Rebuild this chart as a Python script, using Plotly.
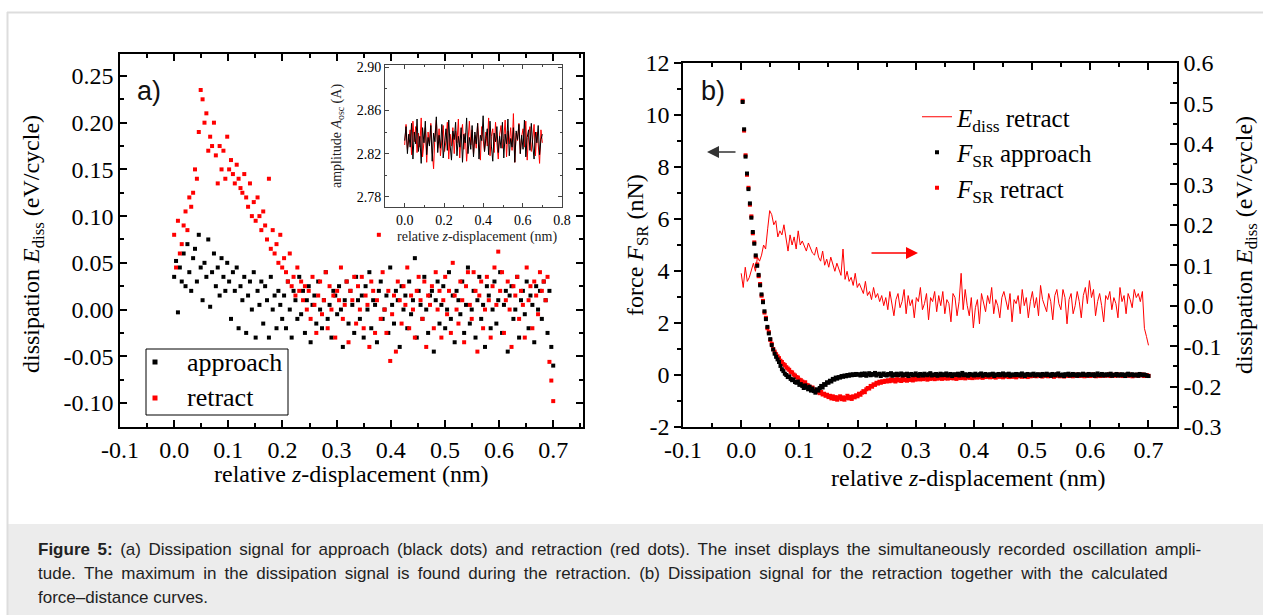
import numpy as np
import plotly.graph_objects as go

# panel a: dissipation (eV/cycle), one value every 0.0035 nm starting at z = 0
APPROACH_EDISS = [
    0.035, 0.052, -0.003, 0.045, 0.03, 0.06, 0.025, 0.07, 0.04, 0.02,
    0.055, 0.065, 0.03, 0.08, 0.045, 0.01, 0.05, 0.035, 0.075, 0.003, 0.04,
    0.06, 0.025, 0.045, 0.015, 0.055, 0.035, 0.02, 0.05,
    0.03, -0.01, 0.04, 0.02, 0.045, -0.02, 0.025, 0.01, 0.035, -0.025,
    0.015, 0.03, 0.0, 0.04, -0.03, 0.02, 0.005, 0.03, -0.015, 0.025,
    0.01, -0.03, 0.035, 0.0, 0.015, -0.02, 0.02, 0.005, -0.01,
    0.015, -0.02, 0.03, 0.0, -0.03, 0.02, 0.01, -0.01, 0.035, -0.005,
    0.02, -0.025, 0.01, 0.025, -0.035, 0.005, 0.015, -0.015, 0.03, 0.0,
    -0.02, 0.01, 0.04, -0.01, 0.005, -0.03, 0.02, 0.015, -0.005, 0.025,
    0.0, -0.04, 0.01, 0.03, -0.015, 0.02, 0.005, -0.025, 0.035, 0.01,
    -0.01, 0.015, -0.03, 0.025, 0.0, 0.04, -0.02, 0.01, 0.005, -0.035,
    0.02, 0.03, -0.01, 0.0, 0.015, -0.025, 0.045, 0.005, -0.015, 0.02,
    0.01, -0.04, 0.025, 0.0, 0.015, -0.02, 0.03, -0.005, 0.01, 0.055,
    -0.03, 0.02, 0.005, -0.01, 0.035, 0.0, -0.025, 0.015, 0.02, -0.045,
    0.01, 0.03, -0.015, 0.005, 0.025, -0.02, 0.0, 0.04, -0.01, 0.015,
    -0.035, 0.02, 0.01, -0.005, 0.03, -0.025, 0.005, 0.045, -0.015, 0.0,
    0.02, -0.03, 0.01, 0.035, -0.01, 0.005, -0.04, 0.025, 0.015, -0.02,
    0.0, 0.03, -0.015, 0.01, 0.04, -0.025, 0.005, 0.02, -0.045, 0.015,
    0.025, -0.01, 0.0, 0.035, -0.03, 0.01, 0.02, -0.005, 0.03, -0.02,
    0.015, 0.005, -0.035, 0.025, 0.0, 0.02, -0.01, 0.03, 0.01, -0.025,
    0.02, -0.04, -0.06,
]
RETRACT_EDISS = [
    0.08, 0.045, 0.095, 0.06,
    0.07, 0.09, 0.105, 0.085, 0.12, 0.11,
    0.125, 0.15, 0.14, 0.19, 0.235,
    0.225, 0.2, 0.21, 0.17, 0.185, 0.175,
    0.2, 0.165, 0.135, 0.175, 0.15, 0.17, 0.14, 0.185,
    0.15, 0.16, 0.145, 0.135, 0.155, 0.14, 0.13, 0.125, 0.145,
    0.12, 0.11, 0.135, 0.1, 0.115, 0.095, 0.12, 0.1, 0.085, 0.105,
    0.09, 0.075, 0.14, 0.065, 0.085, 0.06, 0.07, 0.05, 0.08, 0.045,
    0.055, 0.04, 0.03, 0.06, 0.025, 0.035, 0.015, 0.045, 0.02, 0.03, 0.01, 0.025, 0.0,
    0.02, -0.01, 0.035, 0.005, -0.025, 0.015, 0.03, -0.005, 0.01, 0.04,
    -0.02, 0.025, 0.0, 0.015, -0.03, 0.02, 0.01, 0.045, -0.01, 0.005,
    0.03, -0.035, 0.02, 0.01, 0.035, -0.015, 0.025, 0.0, 0.035, -0.02,
    0.015, 0.005, -0.04, 0.03, 0.02, -0.025, 0.01, 0.08, -0.01, 0.04,
    0.0, -0.025, 0.02, -0.055, -0.005, 0.015, -0.045, 0.03, 0.01, -0.015,
    0.025, 0.005, 0.045, -0.02, 0.015, 0.0, -0.03, 0.02, 0.035, 0.01,
    -0.01, 0.03, -0.04, 0.015, 0.005, 0.025, -0.02, 0.04, 0.0, 0.02,
    -0.03, 0.01, 0.035, -0.005, 0.02, -0.025, 0.05, 0.015, 0.0, -0.015,
    0.03, 0.01, -0.035, 0.025, 0.04, 0.005, -0.01, 0.04, 0.02, -0.045,
    0.015, 0.03, -0.02, 0.0, 0.035, 0.01, -0.03, 0.025, 0.045, 0.005,
    0.062, 0.02, 0.04, -0.025, 0.01, 0.03, 0.0, -0.04, 0.025, 0.015,
    0.035, -0.01, 0.02, 0.005, -0.03, 0.045, 0.01, 0.025, -0.02, 0.03,
    0.015, -0.005, 0.04, 0.02, 0.03, 0.01, 0.035,
    -0.056, -0.076, -0.098,
]

# inset: oscillation amplitude (A), one value every 0.007 nm
AMP_APPROACH = [
    2.832, 2.845, 2.820, 2.838, 2.826, 2.848, 2.815, 2.840, 2.829, 2.852,
    2.822, 2.836, 2.811, 2.844, 2.830, 2.850, 2.819, 2.835, 2.827, 2.846,
    2.813, 2.839, 2.831, 2.854, 2.821, 2.837, 2.825, 2.847, 2.816, 2.834,
    2.843, 2.823, 2.851, 2.828, 2.814, 2.841, 2.833, 2.849, 2.818, 2.836,
    2.826, 2.844, 2.812, 2.838, 2.830, 2.853, 2.820, 2.835, 2.824, 2.846,
    2.817, 2.840, 2.829, 2.848, 2.815, 2.837, 2.832, 2.855, 2.822, 2.834,
    2.843, 2.819, 2.850, 2.827, 2.813, 2.839, 2.831, 2.845, 2.821, 2.836,
    2.825, 2.849, 2.816, 2.838, 2.829, 2.852, 2.818, 2.834, 2.826, 2.844,
    2.812, 2.841, 2.833, 2.847, 2.820, 2.837, 2.824, 2.851, 2.817, 2.835,
    2.842, 2.823, 2.848, 2.828, 2.815, 2.840, 2.830, 2.846, 2.819, 2.833,
    2.838,
]
AMP_RETRACT = [
    2.828, 2.847, 2.824, 2.836, 2.842, 2.819, 2.850, 2.831, 2.845, 2.821,
    2.839, 2.826, 2.853, 2.817, 2.834, 2.844, 2.812, 2.840, 2.829, 2.848,
    2.823, 2.806, 2.837, 2.851, 2.825, 2.843, 2.818, 2.835, 2.846, 2.822,
    2.832, 2.849, 2.815, 2.838, 2.827, 2.844, 2.820, 2.841, 2.830, 2.852,
    2.816, 2.836, 2.847, 2.824, 2.839, 2.813, 2.834, 2.850, 2.828, 2.842,
    2.819, 2.837, 2.825, 2.848, 2.831, 2.814, 2.845, 2.833, 2.822, 2.840,
    2.827, 2.853, 2.818, 2.836, 2.843, 2.821, 2.849, 2.830, 2.815, 2.838,
    2.846, 2.825, 2.834, 2.851, 2.817, 2.841, 2.829, 2.844, 2.823, 2.857,
    2.812, 2.839, 2.832, 2.848, 2.820, 2.836, 2.843, 2.826, 2.850, 2.814,
    2.837, 2.845, 2.822, 2.833, 2.847, 2.818, 2.840, 2.829, 2.811, 2.842,
    2.830,
]

# panel b: short-range force (nN), one value every 0.0025 nm starting at z = 0.0025
F_APPROACH = [
    10.5, 9.45, 8.4, 7.75, 7.15, 6.6, 6.05, 5.5, 5.05, 4.6,
    4.2, 3.85, 3.45, 3.1, 2.8, 2.45, 2.15, 1.85, 1.6, 1.38,
    1.15, 0.98, 0.82, 0.7, 0.6, 0.5, 0.35, 0.22, 0.15, 0.05,
    0.0, -0.08, -0.05, -0.15, -0.2, -0.17, -0.27, -0.3, -0.25, -0.38,
    -0.35, -0.42, -0.5, -0.4, -0.48, -0.55, -0.45, -0.6, -0.52, -0.62,
    -0.68, -0.55, -0.6, -0.5, -0.42, -0.48, -0.35, -0.38, -0.28, -0.3,
    -0.22, -0.25, -0.15, -0.18, -0.1, -0.14, -0.08, -0.1, -0.04, -0.07,
    -0.02, -0.05, 0.0, -0.03, 0.02, -0.01, 0.03, 0.0, 0.04, 0.01,
    0.03, -0.02, 0.05, 0.0, 0.06, -0.03, 0.02, 0.07, -0.01, 0.04,
    0.01, 0.08, -0.02, 0.03, 0.05, -0.04, 0.02, 0.06, 0.0, -0.02,
    0.04, 0.01, 0.07, -0.03, 0.03, 0.0, 0.05, -0.01, 0.02, 0.06,
    -0.02, 0.03, 0.0, 0.05, -0.04, 0.02, 0.04, -0.01, 0.01, 0.06,
    0.0, -0.03, 0.04, 0.02, -0.02, 0.05, 0.01, -0.01, 0.03, 0.07,
    -0.02, 0.02, 0.0, 0.04, -0.03, 0.01, 0.05, -0.01, 0.03, 0.0,
    0.06, -0.02, 0.02, 0.04, -0.04, 0.01, 0.03, 0.0, 0.05, -0.02,
    0.02, 0.08, -0.01, 0.03, 0.0, -0.03, 0.04, 0.01, 0.02, -0.02,
    0.05, 0.0, -0.01, 0.03, 0.06, -0.03, 0.01, 0.04, 0.0, -0.02,
    0.03, 0.01, 0.05, -0.04, 0.02, 0.0, 0.04, -0.01, 0.02, 0.06,
    -0.02, 0.03, 0.0, 0.05, -0.03, 0.01, 0.02, -0.01, 0.04, 0.0,
    0.03, -0.02, 0.06, 0.01, -0.04, 0.02, 0.04, 0.0, -0.01, 0.03,
    0.05, -0.02, 0.01, 0.03, 0.0, -0.03, 0.04, 0.02, -0.01, 0.05,
    0.0, 0.02, -0.03, 0.04, 0.01, -0.01, 0.03, 0.06, -0.02, 0.0,
    0.02, -0.04, 0.03, 0.01, 0.05, -0.02, 0.0, 0.04, -0.01, 0.02,
    -0.03, 0.03, 0.01, -0.01, 0.05, 0.0, 0.02, -0.02, 0.04, 0.01,
    0.0, 0.03, -0.03, 0.02, 0.06, -0.01, 0.01, 0.04, -0.02, 0.0,
    0.03, -0.01, 0.02, 0.05, -0.03, 0.01, 0.0, 0.04, -0.02, 0.02,
    -0.01, 0.03, 0.0, -0.04, 0.02, 0.05, -0.01, 0.01, 0.03, -0.02,
    0.0, 0.02, -0.03, 0.04, 0.01, -0.01, 0.02, 0.0, -0.03, -0.04,
]
F_RETRACT = [
    10.55, 9.4, 8.45, 7.7, 7.2, 6.55, 6.1, 5.45, 5.1, 4.55,
    4.25, 3.8, 3.5, 3.05, 2.85, 2.4, 2.2, 1.8, 1.65, 1.35,
    1.2, 1.0, 0.9, 0.8, 0.72, 0.65, 0.55, 0.5, 0.42, 0.38,
    0.3, 0.25, 0.2, 0.12, 0.1, 0.02, -0.02, -0.08, -0.1, -0.18,
    -0.2, -0.25, -0.3, -0.28, -0.38, -0.4, -0.45, -0.5, -0.48, -0.56,
    -0.6, -0.58, -0.66, -0.7, -0.65, -0.75, -0.72, -0.8, -0.76, -0.85,
    -0.8, -0.9, -0.82, -0.92, -0.85, -0.95, -0.88, -0.82, -0.93, -0.86,
    -0.95, -0.88, -0.8, -0.9, -0.84, -0.92, -0.82, -0.86, -0.78, -0.82,
    -0.72, -0.76, -0.68, -0.62, -0.66, -0.55, -0.5, -0.52, -0.42, -0.45,
    -0.36, -0.38, -0.3, -0.33, -0.26, -0.3, -0.24, -0.27, -0.22, -0.25,
    -0.2, -0.24, -0.17, -0.22, -0.19, -0.25, -0.16, -0.21, -0.18, -0.23,
    -0.15, -0.2, -0.17, -0.22, -0.14, -0.19, -0.16, -0.21, -0.13, -0.18,
    -0.15, -0.11, -0.17, -0.12, -0.16, -0.1, -0.14, -0.18, -0.11, -0.15,
    -0.09, -0.13, -0.16, -0.1, -0.14, -0.12, -0.08, -0.15, -0.11, -0.13,
    -0.09, -0.14, -0.1, -0.12, -0.07, -0.13, -0.1, -0.15, -0.08, -0.11,
    -0.12, -0.07, -0.1, -0.13, -0.09, -0.06, -0.11, -0.08, -0.12, -0.09,
    -0.07, -0.1, -0.05, -0.09, -0.06, -0.11, -0.04, -0.08, -0.07, -0.03,
    -0.09, -0.05, -0.08, -0.04, -0.1, -0.06, -0.03, -0.07, -0.05, -0.09,
    -0.04, -0.06, -0.02, -0.08, -0.05, -0.07, -0.03, -0.06, -0.09, -0.04,
    -0.05, -0.02, -0.07, -0.04, -0.06, -0.03, -0.08, -0.01, -0.05, -0.04,
    -0.03, 0.0, -0.05, -0.02, 0.01, -0.04, -0.06, -0.01, -0.03, 0.02,
    -0.05, -0.02, -0.04, 0.0, -0.07, -0.03, 0.01, -0.02, -0.05, -0.01,
    -0.03, -0.06, 0.0, -0.02, -0.04, 0.01, -0.03, -0.05, -0.01, -0.02,
    0.02, -0.04, -0.01, -0.03, 0.0, -0.05, -0.02, 0.01, -0.03, -0.04,
    -0.01, 0.02, -0.03, -0.05, 0.0, -0.02, -0.04, 0.01, -0.01, -0.03,
    0.0, -0.02, 0.03, -0.04, -0.01, 0.01, -0.03, 0.0, -0.02, 0.02,
    -0.01, -0.04, 0.0, -0.02, 0.01, -0.03, 0.02, -0.01, -0.05, 0.0,
    -0.02, 0.01, -0.03, 0.0, -0.01, 0.02, -0.04, -0.02, -0.01, -0.03,
]

Z_TICKS = [-0.1, 0.0, 0.1, 0.2, 0.3, 0.4, 0.5, 0.6, 0.7]
Z_LABELS = ["-0.1", "0.0", "0.1", "0.2", "0.3", "0.4", "0.5", "0.6", "0.7"]
EDISS_A_TICKS = [-0.10, -0.05, 0.0, 0.05, 0.10, 0.15, 0.20, 0.25]
EDISS_A_LABELS = ["-0.10", "-0.05", "0.00", "0.05", "0.10", "0.15", "0.20", "0.25"]
FORCE_TICKS = [-2, 0, 2, 4, 6, 8, 10, 12]
FORCE_LABELS = ["-2", "0", "2", "4", "6", "8", "10", "12"]
EDISS_B_TICKS = [-0.3, -0.2, -0.1, 0.0, 0.1, 0.2, 0.3, 0.4, 0.5, 0.6]
EDISS_B_LABELS = ["-0.3", "-0.2", "-0.1", "0.0", "0.1", "0.2", "0.3", "0.4", "0.5", "0.6"]
INSET_X_TICKS = [0.0, 0.2, 0.4, 0.6, 0.8]
INSET_X_LABELS = ["0.0", "0.2", "0.4", "0.6", "0.8"]
INSET_Y_TICKS = [2.78, 2.82, 2.86, 2.90]
INSET_Y_LABELS = ["2.78", "2.82", "2.86", "2.90"]

CAPTION = [
    "<b>Figure 5:</b> (a) Dissipation signal for approach (black dots) and retraction (red dots). "
    "The inset displays the simultaneously recorded oscillation ampli-",
    "tude. The maximum in the dissipation signal is found during the retraction. "
    "(b) Dissipation signal for the retraction together with the calculated",
    "force–distance curves.",
]
# the published caption is justified: pad the word gaps of the first two lines
CAPTION_GAPS = [" \u200a\u200a", " \u2009", " "]

W, H = 1263, 615
SERIF = "Liberation Serif"
SANS = "Liberation Sans"
RED = "#ff0000"


def px(x):
    return x / W


def py(y):
    return 1 - y / H


z_a = np.arange(len(APPROACH_EDISS)) * 0.0035
z_r = np.arange(len(RETRACT_EDISS)) * 0.0035
z_amp_a = np.arange(len(AMP_APPROACH)) * 0.007
z_amp_r = np.arange(len(AMP_RETRACT)) * 0.007
z_fa = (np.arange(len(F_APPROACH)) + 1) * 0.0025
z_fr = (np.arange(len(F_RETRACT)) + 1) * 0.0025


def axis(size=24, ticklen=7, minor_len=4, minor_dtick=None, lw=1.5, color="black", **kw):
    spec = dict(
        showline=True, linecolor=color, linewidth=lw, ticks="inside", ticklen=ticklen,
        tickwidth=lw, tickcolor=color, showgrid=False, zeroline=False, tickmode="array",
        automargin=False, tickfont=dict(family=SERIF, size=size, color="black"),
    )
    minor_ticks = kw.pop("minor_ticks", kw.get("ticks", "inside"))
    if minor_dtick:
        spec["minor"] = dict(ticks=minor_ticks, ticklen=minor_len, tickwidth=lw, tickcolor=color,
                             tick0=0, dtick=minor_dtick, showgrid=False)
    spec.update(kw)
    return spec


fig = go.Figure()
marker = dict(symbol="square", size=4, line=dict(width=0))
fig.add_trace(go.Scatter(x=z_a, y=APPROACH_EDISS, mode="markers", name="approach",
                         marker=dict(color="black", **marker), xaxis="x", yaxis="y", showlegend=False))
fig.add_trace(go.Scatter(x=z_r, y=RETRACT_EDISS, mode="markers", name="retract",
                         marker=dict(color=RED, **marker), xaxis="x", yaxis="y", showlegend=False))
fig.add_trace(go.Scatter(x=z_amp_r, y=AMP_RETRACT, mode="lines", line=dict(color=RED, width=1),
                         xaxis="x3", yaxis="y4", showlegend=False))
fig.add_trace(go.Scatter(x=z_amp_a, y=AMP_APPROACH, mode="lines", line=dict(color="black", width=1),
                         xaxis="x3", yaxis="y4", showlegend=False))
fig.add_trace(go.Scatter(x=z_r, y=RETRACT_EDISS, mode="lines", name="<i>E</i><sub>diss</sub> retract",
                         line=dict(color=RED, width=1), xaxis="x2", yaxis="y2", legendrank=1))
fig.add_trace(go.Scatter(x=z_fr, y=F_RETRACT, mode="markers", name="<i>F</i><sub>SR</sub> retract",
                         marker=dict(color=RED, **marker), xaxis="x2", yaxis="y3", legendrank=3))
fig.add_trace(go.Scatter(x=z_fa, y=F_APPROACH, mode="markers", name="<i>F</i><sub>SR</sub> approach",
                         marker=dict(color="black", **marker), xaxis="x2", yaxis="y3", legendrank=2))

annotations = [
    dict(text="a)", x=px(149), y=py(91), font=dict(family=SANS, size=27, color="#111")),
    dict(text="b)", x=px(713), y=py(91), font=dict(family=SANS, size=27, color="#111")),
    dict(text="dissipation <i>E</i><sub>diss</sub> (eV/cycle)", x=px(33), y=py(244), textangle=-90),
    dict(text="relative <i>z</i>-displacement (nm)", x=px(351), y=py(474)),
    dict(text="relative <i>z</i>-displacement (nm)", x=px(968), y=py(478)),
    dict(text="force <i>F</i><sub>SR</sub> (nN)", x=px(637), y=py(245), textangle=-90),
    dict(text="dissipation <i>E</i><sub>diss</sub> (eV/cycle)", x=px(1246), y=py(245), textangle=-90),
    dict(text="amplitude <i>A</i><sub>osc</sub> (A)", x=px(337), y=py(136), textangle=-90,
         font=dict(family=SERIF, size=14, color="#222")),
    dict(text="relative <i>z</i>-displacement (nm)", x=px(477), y=py(237),
         font=dict(family=SERIF, size=14, color="#222")),
    # hand-built legend of panel a
    dict(text="approach", x=px(185), y=py(362), xanchor="left", font=dict(family=SERIF, size=26, color="black")),
    dict(text="retract", x=px(185), y=py(397), xanchor="left", font=dict(family=SERIF, size=26, color="black")),
]
for a in annotations:
    a.setdefault("font", dict(family=SERIF, size=24, color="black"))
    a.setdefault("xanchor", "center")
    a.update(xref="paper", yref="paper", showarrow=False, yanchor="middle")

arrows = [
    dict(x=px(707), y=py(152), ax=30, ay=0, arrowcolor="#333333"),
    dict(x=px(918), y=py(253), ax=-48, ay=0, arrowcolor=RED),
]
for a in arrows:
    a.update(xref="paper", yref="paper", text="", showarrow=True, arrowhead=2,
             arrowsize=1.6, arrowwidth=1.5)
    annotations.append(a)

for line, gap, yline in zip(CAPTION, CAPTION_GAPS, [549, 573, 597]):
    annotations.append(dict(text=line.replace(" ", gap), x=px(36), y=py(yline), xref="paper", yref="paper",
                            xanchor="left", yanchor="middle", showarrow=False, align="left",
                            font=dict(family=SANS, size=17, color="#222222")))

shapes = [
    dict(type="rect", xref="paper", yref="paper", x0=px(7), x1=1.01, y0=-0.01, y1=py(524),
         fillcolor="#ececec", line=dict(width=0), layer="below"),
    dict(type="line", xref="paper", yref="paper", x0=px(7), x1=1.01, y0=py(12.5), y1=py(12.5),
         line=dict(color="#dddddd", width=2)),
    dict(type="line", xref="paper", yref="paper", x0=px(7.5), x1=px(7.5), y0=-0.01, y1=py(12),
         line=dict(color="#dddddd", width=2)),
    dict(type="rect", xref="paper", yref="paper", x0=px(146), x1=px(288), y0=py(415), y1=py(349),
         fillcolor="white", line=dict(color="black", width=1)),
    dict(type="rect", xref="paper", yref="paper", x0=px(152.5), x1=px(157.5), y0=py(364.5), y1=py(359.5),
         fillcolor="black", line=dict(width=0)),
    dict(type="rect", xref="paper", yref="paper", x0=px(152.5), x1=px(157.5), y0=py(400.5), y1=py(395.5),
         fillcolor=RED, line=dict(width=0)),
]

fig.update_layout(
    template="none",
    width=W, height=H, margin=dict(l=0, r=0, t=0, b=0, autoexpand=False),
    paper_bgcolor="white", plot_bgcolor="rgba(0,0,0,0)",
    showlegend=True,
    xaxis=axis(domain=[px(120), px(583)], range=[-0.1, 0.755], tickvals=Z_TICKS, ticktext=Z_LABELS,
               mirror="ticks", minor_dtick=0.05, anchor="y"),
    yaxis=axis(domain=[py(427), py(54)], range=[-0.1257, 0.2735], tickvals=EDISS_A_TICKS,
               ticktext=EDISS_A_LABELS, mirror="ticks", minor_dtick=0.025, anchor="x"),
    xaxis2=axis(domain=[px(683), px(1177)], range=[-0.1, 0.749], tickvals=Z_TICKS, ticktext=Z_LABELS,
                mirror="ticks", minor_dtick=0.05, anchor="y2"),
    yaxis2=axis(domain=[py(427), py(63)], range=[-0.3, 0.6], tickvals=EDISS_B_TICKS,
                ticktext=EDISS_B_LABELS, side="right", minor_dtick=0.05, anchor="x2"),
    yaxis3=axis(range=[-2, 12], tickvals=FORCE_TICKS, ticktext=FORCE_LABELS, side="left",
                overlaying="y2", anchor="x2", ticks="outside", minor_dtick=1),
    xaxis3=axis(size=14, ticklen=4, minor_len=2, lw=1, color="#444444", domain=[px(385), px(562)],
                range=[-0.1, 0.8], tickvals=INSET_X_TICKS, ticktext=INSET_X_LABELS, mirror="ticks",
                minor_dtick=0.1, anchor="y4"),
    yaxis4=axis(size=14, ticklen=4, minor_len=2, lw=1, color="#444444", domain=[py(207), py(65)],
                range=[2.7707, 2.9019], tickvals=INSET_Y_TICKS, ticktext=INSET_Y_LABELS, mirror="ticks",
                minor_dtick=0.02, anchor="x3"),
    legend=dict(x=px(917), y=py(94), xanchor="left", yanchor="top", bgcolor="rgba(0,0,0,0)",
                borderwidth=0, font=dict(family=SERIF, size=25, color="black")),
    annotations=annotations,
    shapes=shapes,
)

fig.write_html("out.html", config={"displayModeBar": False},
               post_script="document.body.style.margin='0';")
